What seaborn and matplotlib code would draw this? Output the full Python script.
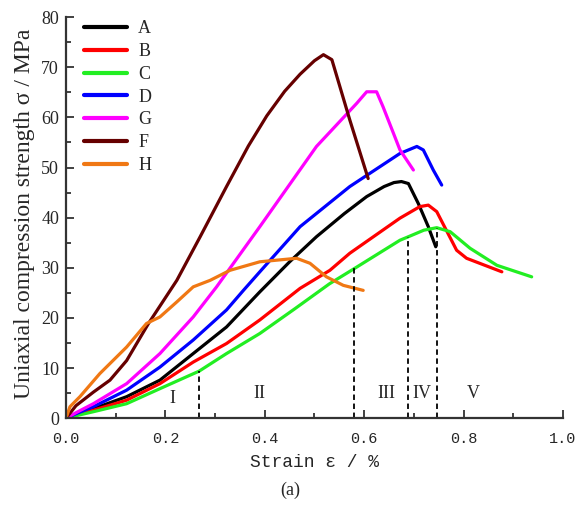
import matplotlib
matplotlib.use("Agg")
import matplotlib.pyplot as plt
from matplotlib.ticker import MultipleLocator
import pandas as pd
import seaborn as sns

# strain (%) / stress (MPa)
a_x = [0, 0.02, 0.055, 0.122, 0.189, 0.256, 0.323, 0.39, 0.45, 0.504, 0.56, 0.605, 0.64, 0.66, 0.675, 0.689, 0.709, 0.729, 0.744]
a_y = [0, 0.8, 1.9, 4.3, 7.6, 12.9, 18.2, 25.2, 31.2, 36.2, 40.8, 44.2, 46.2, 47.0, 47.2, 46.8, 42.8, 38.2, 34.2]

b_x = [0, 0.02, 0.055, 0.122, 0.189, 0.256, 0.323, 0.39, 0.471, 0.531, 0.571, 0.672, 0.712, 0.729, 0.746, 0.786, 0.806, 0.877]
b_y = [0, 0.7, 1.6, 3.6, 6.9, 11.2, 14.9, 19.6, 25.9, 29.5, 32.9, 39.9, 42.2, 42.5, 41.2, 33.5, 31.9, 29.2]

c_x = [0, 0.02, 0.055, 0.122, 0.189, 0.268, 0.323, 0.39, 0.46, 0.53, 0.581, 0.672, 0.689, 0.72, 0.746, 0.773, 0.813, 0.867, 0.937]
c_y = [0, 0.5, 1.3, 2.9, 5.9, 9.4, 12.9, 16.9, 21.8, 26.8, 29.9, 35.5, 36.2, 37.5, 38.0, 37.2, 33.9, 30.5, 28.2]

d_x = [0, 0.02, 0.055, 0.122, 0.189, 0.256, 0.323, 0.357, 0.39, 0.471, 0.571, 0.672, 0.706, 0.719, 0.739, 0.756]
d_y = [0, 0.9, 2.3, 5.6, 10.2, 15.6, 21.6, 25.5, 29.2, 38.2, 46.2, 52.8, 54.2, 53.5, 49.5, 46.5]

g_x = [0, 0.02, 0.055, 0.122, 0.189, 0.256, 0.303, 0.39, 0.504, 0.585, 0.605, 0.625, 0.638, 0.659, 0.672, 0.699]
g_y = [0, 1.1, 2.9, 6.9, 12.9, 20.2, 26.2, 38.2, 54.2, 62.8, 65.1, 65.1, 62.1, 56.8, 53.5, 49.5]

f_x = [0, 0.02, 0.055, 0.0885, 0.122, 0.166, 0.223, 0.27, 0.323, 0.367, 0.404, 0.44, 0.471, 0.5, 0.518, 0.535, 0.571, 0.608]
f_y = [0, 2.5, 5.2, 7.6, 11.5, 18.9, 27.5, 36.2, 46.2, 54.3, 60.3, 65.2, 68.6, 71.3, 72.5, 71.5, 59.5, 47.8]

h_x = [0, 0.008, 0.028, 0.068, 0.122, 0.162, 0.189, 0.223, 0.256, 0.29, 0.33, 0.39, 0.464, 0.491, 0.524, 0.558, 0.598]
h_y = [0, 2.3, 4.3, 8.9, 14.2, 18.9, 20.2, 23.2, 26.2, 27.5, 29.5, 31.2, 31.9, 30.9, 28.2, 26.5, 25.5]

series = ["A", "B", "C", "D", "G", "F", "H"]
xs = [a_x, b_x, c_x, d_x, g_x, f_x, h_x]
ys = [a_y, b_y, c_y, d_y, g_y, f_y, h_y]
colors = ["#000000", "#ff0000", "#22ee22", "#0000ff", "#ff00ff", "#660000", "#f07814"]

# stage boundaries and where each dashed line stops
bound_x = [0.268, 0.58, 0.689, 0.746]
bound_top = [9.4, 29.9, 36.2, 38.0]
stage_names = ["I", "II", "III", "IV", "V"]
stage_x = [0.215, 0.39, 0.645, 0.717, 0.82]
stage_y = [4.0, 5.0, 5.0, 5.0, 5.0]

rows = []
for name, sx, sy in zip(series, xs, ys):
    for x, y in zip(sx, sy):
        rows.append({"sample": name, "strain": x, "stress": y})
df = pd.DataFrame(rows)

sns.set_style("ticks")
plt.rcParams["font.family"] = ["Liberation Serif", "DejaVu Serif"]

fig = plt.figure(figsize=(5.84, 5.17), dpi=100)
ax = fig.add_axes([0.113, 0.191, 0.851, 0.776])

sns.lineplot(data=df, x="strain", y="stress", hue="sample", hue_order=series,
             palette=dict(zip(series, colors)), sort=False, estimator=None,
             linewidth=2.3, ax=ax)

for bx, bt in zip(bound_x, bound_top):
    ax.plot([bx, bx], [0, bt], color="black", linestyle=(0, (3, 2)), linewidth=1.3)

for nm, sx, sy in zip(stage_names, stage_x, stage_y):
    ax.text(sx, sy, nm, fontsize=13, ha="center", va="center")

ax.set_xlim(0, 1.0)
ax.set_ylim(0, 80)
ax.xaxis.set_major_locator(MultipleLocator(0.2))
ax.xaxis.set_minor_locator(MultipleLocator(0.1))
ax.yaxis.set_major_locator(MultipleLocator(10))
ax.yaxis.set_minor_locator(MultipleLocator(5))
ax.tick_params(which="both", direction="in", width=1.3, color="#333333")
ax.tick_params(which="major", length=6)
ax.tick_params(which="minor", length=3.5)
ax.tick_params(axis="y", labelsize=13, pad=5)
ax.tick_params(axis="x", labelsize=11, pad=10)
ax.set_xticks([0, 0.2, 0.4, 0.6, 0.8, 1.0])
ax.set_xticklabels(["0.0", "0.2", "0.4", "0.6", "0.8", "1.0"], family="Liberation Mono")
for s in ["left", "bottom"]:
    ax.spines[s].set_linewidth(1.6)
    ax.spines[s].set_color("#333333")
sns.despine(ax=ax)

ax.set_xlabel("Strain ε / %", fontsize=13, family="Liberation Mono")
ax.xaxis.set_label_coords(0.5, -0.09)
ax.set_ylabel("Uniaxial compression strength σ / MPa", fontsize=17)
ax.yaxis.set_label_coords(-0.062, 0.51)

leg = ax.legend(loc="upper left", frameon=False, fontsize=13, handlelength=2.4,
                handletextpad=0.6, labelspacing=0.32, borderaxespad=0.0,
                bbox_to_anchor=(0.022, 1.01))
for line in leg.get_lines():
    line.set_linewidth(3)

fig.text(0.497, 0.052, "(a)", fontsize=13, ha="center", va="center")

fig.savefig("out.png", dpi=100)
